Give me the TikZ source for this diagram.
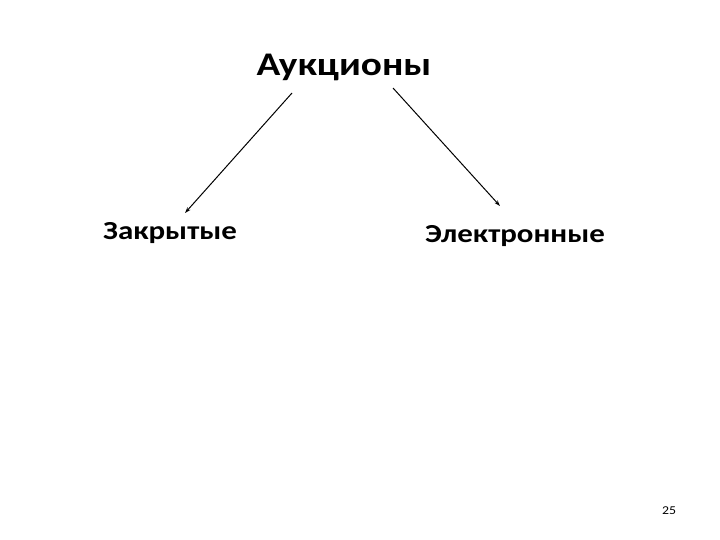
\documentclass[tikz,border=0pt]{standalone}
\usepackage{fontspec}
\setmainfont{Carlito}
\usetikzlibrary{arrows.meta}
\begin{document}
\begin{tikzpicture}[x=1pt,y=-1pt,
  lbl/.style={inner sep=0pt, anchor=center, xscale=1.19, font=\fontsize{26}{30}\bfseries\selectfont},
  conn/.style={draw=black, line width=1pt, -{Stealth[length=6pt,width=4pt]}}]
\useasboundingbox (0,0) rectangle (720,540);
\node[lbl, font=\fontsize{33}{38}\bfseries\selectfont] (root) at (344,67) {Аукционы};
\node[lbl] (closed) at (170,233) {Закрытые};
\node[lbl] (elec) at (515,236) {Электронные};
\node[inner sep=0pt, xscale=1.15, font=\fontsize{12}{14}\selectfont] (pg) at (669,511) {25};
\coordinate (a1) at (292,93);
\coordinate (a2) at (185,213);
\coordinate (b1) at (393,88);
\coordinate (b2) at (500,206);
\draw[conn] (a1) -- (a2);
\draw[conn] (b1) -- (b2);
\end{tikzpicture}
\end{document}
